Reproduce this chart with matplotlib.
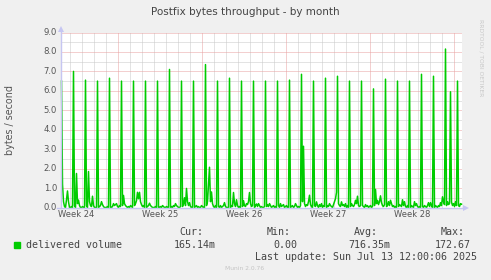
import numpy as np
import matplotlib
matplotlib.use("Agg")
import matplotlib.pyplot as plt
from matplotlib.patches import Rectangle, Polygon
from matplotlib.lines import Line2D

## data: one row per day, 2 hour steps
delivered = [
    [6.5, 1.2, 0.3, 0.05, 0.0, 0.4, 0.85, 0.3, 0.0, 0.0, 0.05, 0.0],
    [7.0, 0.1, 0.0, 1.75, 0.2, 0.38, 0.1, 0.0, 0.0, 0.05, 0.0, 0.0],
    [6.55, 0.1, 0.0, 1.85, 0.3, 0.1, 0.05, 0.58, 0.1, 0.0, 0.0, 0.0],
    [6.5, 0.0, 0.05, 0.1, 0.3, 0.15, 0.05, 0.0, 0.0, 0.0, 0.05, 0.0],
    [6.65, 0.0, 0.0, 0.05, 0.2, 0.1, 0.15, 0.2, 0.05, 0.0, 0.1, 0.05],
    [6.5, 0.1, 0.62, 0.2, 0.1, 0.05, 0.0, 0.05, 0.0, 0.1, 0.05, 0.0],
    [6.5, 0.1, 0.2, 0.35, 0.78, 0.45, 0.78, 0.3, 0.15, 0.05, 0.1, 0.0],
    [6.5, 0.0, 0.05, 0.1, 0.22, 0.1, 0.05, 0.0, 0.0, 0.0, 0.05, 0.0],
    [6.5, 0.0, 0.0, 0.05, 0.0, 0.1, 0.05, 0.0, 0.0, 0.05, 0.0, 0.0],
    [7.1, 0.0, 0.05, 0.0, 0.1, 0.05, 0.2, 0.1, 0.05, 0.0, 0.0, 0.05],
    [6.5, 0.05, 0.2, 0.5, 0.1, 0.98, 0.3, 0.1, 0.25, 0.05, 0.0, 0.0],
    [6.5, 0.0, 0.05, 0.1, 0.0, 0.05, 0.0, 0.0, 0.1, 0.05, 0.0, 0.0],
    [7.35, 0.1, 0.3, 1.2, 2.07, 0.3, 0.8, 0.2, 0.05, 0.0, 0.1, 0.0],
    [6.5, 0.05, 0.0, 0.1, 0.0, 0.05, 0.1, 0.25, 0.05, 0.0, 0.0, 0.0],
    [6.65, 0.0, 0.1, 0.05, 0.77, 0.2, 0.05, 0.4, 0.1, 0.0, 0.05, 0.0],
    [6.5, 0.05, 0.35, 0.1, 0.05, 0.2, 0.15, 0.3, 0.77, 0.2, 0.05, 0.1],
    [6.5, 0.0, 0.1, 0.18, 0.05, 0.2, 0.1, 0.0, 0.05, 0.0, 0.0, 0.05],
    [6.5, 0.05, 0.15, 0.05, 0.2, 0.1, 0.0, 0.05, 0.1, 0.0, 0.05, 0.0],
    [6.5, 0.1, 0.0, 0.2, 0.05, 0.1, 0.15, 0.0, 0.05, 0.1, 0.0, 0.0],
    [6.55, 0.0, 0.05, 0.1, 0.0, 0.05, 0.2, 0.1, 0.0, 0.05, 0.0, 0.1],
    [6.85, 0.3, 3.15, 0.2, 0.05, 0.15, 0.1, 0.3, 0.63, 0.15, 0.05, 0.0],
    [6.5, 0.1, 0.05, 0.29, 0.1, 0.0, 0.15, 0.05, 0.2, 0.0, 0.1, 0.05],
    [6.65, 0.0, 0.1, 0.05, 0.2, 0.1, 0.05, 0.0, 0.15, 0.3, 0.45, 0.78],
    [6.75, 0.2, 0.1, 0.05, 0.29, 0.1, 0.15, 0.05, 0.2, 0.0, 0.1, 0.0],
    [6.5, 0.05, 0.2, 0.1, 0.05, 0.15, 0.37, 0.2, 0.58, 0.1, 0.05, 0.1],
    [6.5, 0.1, 0.05, 0.0, 0.15, 0.05, 0.1, 0.0, 0.05, 0.1, 0.0, 0.05],
    [6.1, 0.1, 0.93, 0.2, 0.37, 0.15, 0.3, 0.6, 0.25, 0.1, 0.05, 0.15],
    [6.6, 0.05, 0.1, 0.3, 0.1, 0.37, 0.2, 0.05, 0.1, 0.0, 0.05, 0.0],
    [6.5, 0.05, 0.15, 0.1, 0.05, 0.4, 0.1, 0.3, 0.05, 0.0, 0.1, 0.0],
    [6.5, 0.0, 0.1, 0.05, 0.0, 0.3, 0.1, 0.2, 0.05, 0.0, 0.05, 0.0],
    [6.85, 0.05, 0.0, 0.1, 0.05, 0.0, 0.1, 0.25, 0.05, 0.25, 0.1, 0.0],
    [6.75, 0.0, 0.1, 0.05, 0.0, 0.1, 0.05, 0.25, 0.1, 0.55, 0.3, 0.15],
    [8.15, 0.1, 0.3, 0.15, 0.2, 5.95, 0.28, 0.1, 0.2, 0.05, 0.29, 0.1],
    [6.5, 0.1, 0.05, 0.2, 0.17],
]
week_labels = ["Week 24", "Week 25", "Week 26", "Week 27", "Week 28"]
stat_names = ["Cur:", "Min:", "Avg:", "Max:"]
stat_values = ["165.14m", "0.00", "716.35m", "172.67"]
last_update = "Last update: Sun Jul 13 12:00:06 2025"

values = np.concatenate([np.array(d) for d in delivered])
# hours since the left edge of the graph, 2 h per sample
hours = np.arange(len(values)) * 2 + 1

W, H = 491, 280
def fx(x):
    return x / W
def fy(y):
    return 1 - y / H

fig = plt.figure(figsize=(W / 100, H / 100), dpi=100, facecolor="#f0f0f0")
ax = fig.add_axes([fx(61), fy(207.5), 401 / W, 175 / H])
ax.set_facecolor("white")
ax.set_xlim(0, 802)
ax.set_ylim(0, 9.0)
for s in ax.spines.values():
    s.set_visible(False)
ax.set_xticks([])
ax.set_yticks([])

minor_c = "#c8c8c8"
major_c = "#e8a0a0"
dots = dict(lw=0.72, linestyle=(0, (1, 1)), zorder=1)
# minor grid
for x in np.arange(17, 802, 24):
    if (x - 113) % 168 != 0:
        ax.axvline(x, color=minor_c, **dots)
for y in np.arange(0.5, 9.0, 1.0):
    ax.axhline(y, color=minor_c, **dots)
# major grid
for x in np.arange(113, 802, 168):
    ax.axvline(x, color=major_c, **dots)
for y in np.arange(1.0, 9.01, 1.0):
    ax.axhline(y, color=major_c, **dots)

# axes with arrows (drawn under the data line)
axis_c = "#c6c6f2"
fig.add_artist(Line2D([fx(61), fx(61)], [fy(208), fy(31)], color=axis_c, lw=1))
fig.add_artist(Polygon([[fx(58), fy(32)], [fx(64), fy(32)], [fx(61), fy(26)]],
                       closed=True, color=axis_c, lw=0))
fig.add_artist(Line2D([fx(57), fx(464)], [fy(208), fy(208)], color=axis_c, lw=1))
fig.add_artist(Polygon([[fx(463), fy(205)], [fx(463), fy(211)], [fx(469), fy(208)]],
                       closed=True, color=axis_c, lw=0))

ax2 = fig.add_axes(ax.get_position(), sharex=ax, sharey=ax)
ax2.patch.set_visible(False)
ax2.set_axis_off()
ax2.plot(hours, values, color="#00cc00", lw=1.1, zorder=3, clip_on=False)

tick_c = "#555555"
for v in range(10):
    fig.text(fx(57), fy(207.5 - v * 175 / 9), "%.1f" % v, ha="right", va="center",
             fontsize=6.1, color=tick_c)
for i, lab in enumerate(week_labels):
    fig.text(fx(76.5 + 84 * i), fy(214.5), lab, ha="center", va="center",
             fontsize=6.0, color=tick_c)

fig.text(fx(245), fy(12), "Postfix bytes throughput - by month", ha="center",
         va="center", fontsize=7.5, color="#444444")
fig.text(fx(10), fy(120), "bytes / second", rotation=90, ha="center", va="center",
         fontsize=6.9, color=tick_c)
fig.text(fx(481), fy(58), "RRDTOOL / TOBI OETIKER", rotation=270, ha="center",
         va="center", fontsize=4.3, color="#c8c8c8")

# legend
mono = "DejaVu Sans Mono"
leg_c = "#444444"
fig.add_artist(Rectangle((fx(14), fy(247.7)), 5.5 / W, 5.5 / H, color="#00cc00",
                         transform=fig.transFigure))
fig.text(fx(26), fy(245), "delivered volume", family=mono, fontsize=7.2,
         ha="left", va="center", color=leg_c)
name_x = [179.3, 266.7, 354, 441]
val_x = [173.3, 273, 348.3, 435]
for nm, vx, val, vxx in zip(stat_names, name_x, stat_values, val_x):
    fig.text(fx(vx), fy(232.3), nm, family=mono, fontsize=7.2, ha="left",
             va="center", color=leg_c)
    fig.text(fx(vxx), fy(245), val, family=mono, fontsize=7.2, ha="left",
             va="center", color=leg_c)
fig.text(fx(255), fy(257), last_update, family=mono, fontsize=7.2, ha="left",
         va="center", color=leg_c)
fig.text(fx(245), fy(268.3), "Munin 2.0.76", fontsize=4.3, ha="center",
         va="center", color="#c4c4c4")

fig.savefig("out.png", dpi=100, facecolor=fig.get_facecolor())
